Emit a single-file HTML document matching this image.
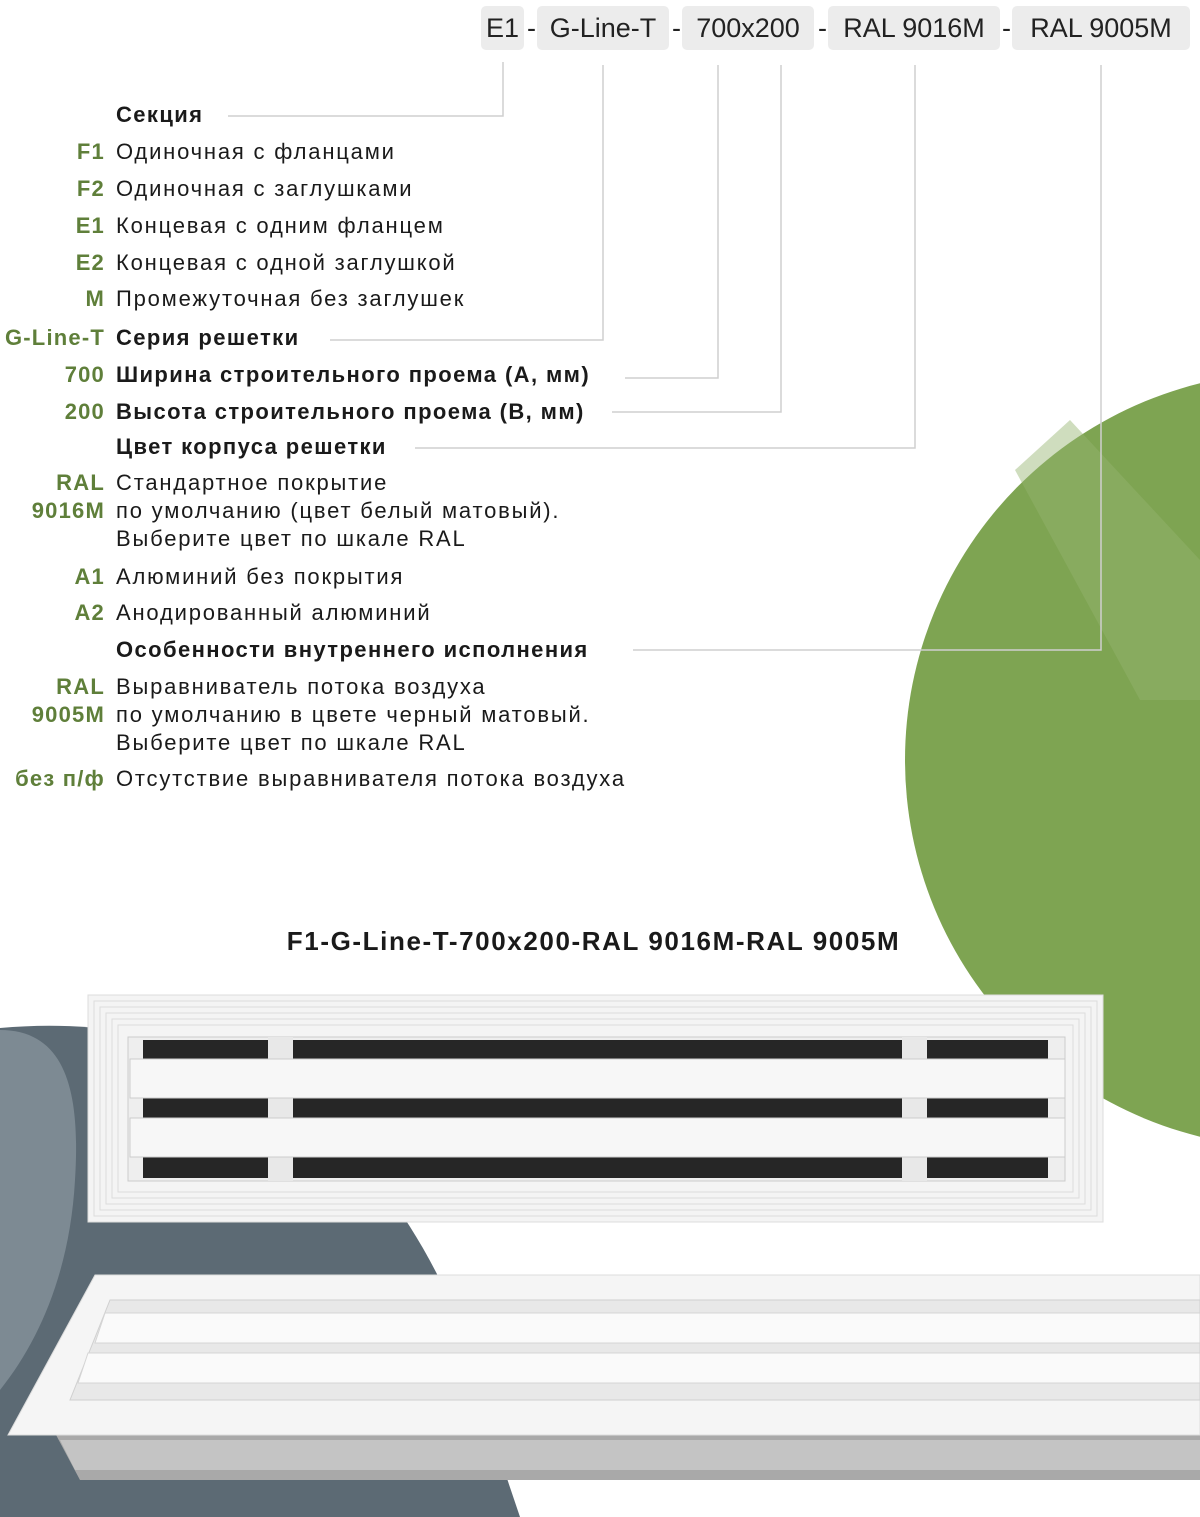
<!DOCTYPE html>
<html><head><meta charset="utf-8"><style>
body{margin:0;width:1200px;height:1517px;position:relative;overflow:hidden;background:#fff;font-family:"Liberation Sans",sans-serif}
.t{position:absolute;font-size:22px;line-height:28px;color:#1a1a1a;white-space:nowrap;letter-spacing:1.8px}
.l{position:absolute;right:1095px;font-size:22px;line-height:28px;color:#5f7f3a;text-align:right;white-space:nowrap;font-weight:bold;letter-spacing:1.2px}
.d{left:116px}
.b{font-weight:bold;letter-spacing:1.4px}
.box{position:absolute;top:6px;height:44px;background:#ececec;border-radius:5px;font-size:27px;line-height:44px;text-align:center;color:#222}
.dash{position:absolute;top:6px;font-size:27px;line-height:44px;color:#222}
</style></head><body>
<svg width="1200" height="1517" style="position:absolute;left:0;top:0">
<circle cx="1293" cy="760" r="388" fill="#7ea452"/>
<polygon points="1015,470 1070,420 1200,560 1200,700 1140,700" fill="#94b46e" opacity="0.45"/>
<path d="M0,1028 C200,1010 350,1100 440,1280 L520,1517 L0,1517 Z" fill="#5c6a74"/>
<path d="M0,1030 C70,1030 80,1100 75,1180 C70,1270 40,1340 0,1390 Z" fill="#7d8a93"/>
<g stroke="#cfcfcf" stroke-width="1.5" fill="none">
<polyline points="503,62 503,116 228,116"/>
<polyline points="603,65 603,340 330,340"/>
<polyline points="718,65 718,378 625,378"/>
<polyline points="781,65 781,412 612,412"/>
<polyline points="915,65 915,448 415,448"/>
<polyline points="1101,65 1101,650 633,650"/>
</g>
<rect x="88" y="995" width="1015" height="227" fill="#f4f4f4" stroke="#ddd"/>
<g stroke="#dcdcdc" fill="none"><rect x="94" y="1001" width="1003" height="215"/><rect x="100" y="1007" width="991" height="203"/><rect x="106" y="1013" width="979" height="191"/><rect x="112" y="1019" width="967" height="179"/><rect x="118" y="1025" width="955" height="167"/></g>
<rect x="128" y="1037" width="937" height="144" fill="#eee" stroke="#ccc"/>
<rect x="143" y="1040" width="905" height="138" fill="#262626"/>
<rect x="268" y="1037" width="25" height="144" fill="#e8e8e8"/>
<rect x="902" y="1037" width="25" height="144" fill="#e8e8e8"/>
<rect x="130" y="1059" width="935" height="39" fill="#f7f7f7" stroke="#ccc"/>
<rect x="130" y="1118" width="935" height="39" fill="#f7f7f7" stroke="#ccc"/>
<polygon points="55,1433 1200,1433 1200,1480 80,1480" fill="#a9a9a9"/>
<polygon points="60,1440 1200,1440 1200,1470 75,1470" fill="#c4c4c4"/>
<polygon points="95,1275 1200,1275 1200,1435 8,1435" fill="#f5f5f5" stroke="#ddd"/>
<polygon points="110,1300 1200,1300 1200,1400 70,1400" fill="#e8e8e8" stroke="#d0d0d0"/>
<polygon points="105,1313 1200,1313 1200,1343 95,1343" fill="#fafafa" stroke="#d5d5d5"/>
<polygon points="88,1353 1200,1353 1200,1383 78,1383" fill="#fafafa" stroke="#d5d5d5"/>
</svg>
<div class="box" style="left:481px;width:43px">E1</div><div class="dash" style="left:527px">-</div>
<div class="box" style="left:537px;width:132px">G-Line-T</div><div class="dash" style="left:672px">-</div>
<div class="box" style="left:682px;width:132px">700x200</div><div class="dash" style="left:818px">-</div>
<div class="box" style="left:828px;width:172px">RAL 9016M</div><div class="dash" style="left:1002px">-</div>
<div class="box" style="left:1012px;width:178px">RAL 9005M</div>

<div class="t d b" style="top:101px">Секция</div>
<div class="l" style="top:138px">F1</div><div class="t d" style="top:138px">Одиночная с фланцами</div>
<div class="l" style="top:175px">F2</div><div class="t d" style="top:175px">Одиночная с заглушками</div>
<div class="l" style="top:212px">E1</div><div class="t d" style="top:212px">Концевая с одним фланцем</div>
<div class="l" style="top:249px">E2</div><div class="t d" style="top:249px">Концевая с одной заглушкой</div>
<div class="l" style="top:285px">M</div><div class="t d" style="top:285px">Промежуточная без заглушек</div>
<div class="l" style="top:324px">G-Line-T</div><div class="t d b" style="top:324px">Серия решетки</div>
<div class="l" style="top:361px">700</div><div class="t d b" style="top:361px">Ширина строительного проема (А, мм)</div>
<div class="l" style="top:398px">200</div><div class="t d b" style="top:398px">Высота строительного проема (В, мм)</div>
<div class="t d b" style="top:433px">Цвет корпуса решетки</div>
<div class="l" style="top:469px">RAL<br>9016M</div><div class="t d" style="top:469px">Стандартное покрытие<br>по умолчанию (цвет белый матовый).<br>Выберите цвет по шкале RAL</div>
<div class="l" style="top:563px">A1</div><div class="t d" style="top:563px">Алюминий без покрытия</div>
<div class="l" style="top:599px">A2</div><div class="t d" style="top:599px">Анодированный алюминий</div>
<div class="t d b" style="top:636px">Особенности внутреннего исполнения</div>
<div class="l" style="top:673px">RAL<br>9005M</div><div class="t d" style="top:673px">Выравниватель потока воздуха<br>по умолчанию в цвете черный матовый.<br>Выберите цвет по шкале RAL</div>
<div class="l" style="top:765px">без п/ф</div><div class="t d" style="top:765px">Отсутствие выравнивателя потока воздуха</div>

<div class="t b" style="left:0;width:1187px;text-align:center;top:925px;font-size:26px;line-height:32px;letter-spacing:1.6px">F1-G-Line-T-700x200-RAL 9016M-RAL 9005M</div>
</body></html>
